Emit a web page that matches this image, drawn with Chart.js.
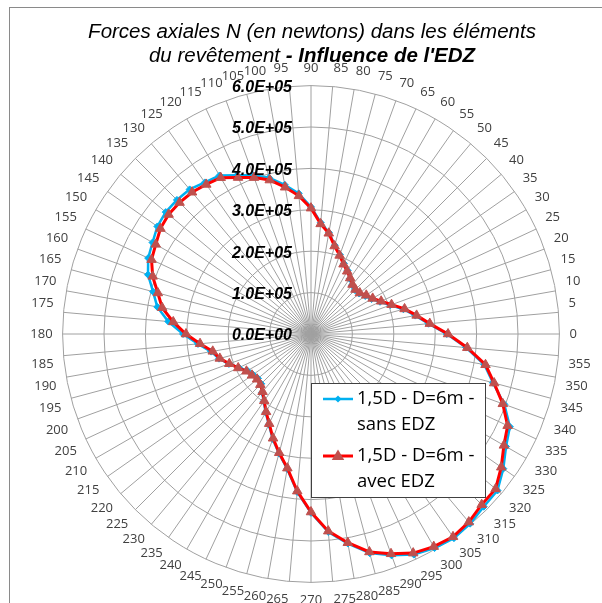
<!DOCTYPE html>
<html>
<head>
<meta charset="utf-8">
<script src="https://cdn.jsdelivr.net/npm/chart.js"></script>
<style>
  html, body { margin: 0; padding: 0; background: #fff; overflow: hidden; width: 602px; height: 603px; }
  #frame { position: absolute; left: 9px; top: 7px; width: 700px; height: 700px; border: 1px solid #8a8a8a; }
  #chart { position: absolute; left: 0; top: 0; }
</style>
</head>
<body>
<div id="frame"></div>
<canvas id="chart" width="630" height="620"></canvas>
<script>
// angles around the ring, clockwise from the top
const angleLabels = ['90','85','80','75','70','65','60','55','50','45','40','35','30','25','20','15','10','5',
  '0','355','350','345','340','335','330','325','320','315','310','305','300','295','290','285','280','275',
  '270','265','260','255','250','245','240','235','230','225','220','215','210','205','200','195','190','185',
  '180','175','170','165','160','155','150','145','140','135','130','125','120','115','110','105','100','95'];

// 1,5D - D=6m - sans EDZ
const sansEDZ = [307000, 270000, 249000, 222000, 204000, 188000, 177000, 163000, 154000, 150000, 152000, 160000,
  169000, 184000, 204000, 231000, 256000, 285000, 328000, 376000, 425000, 455000, 497000, 530000, 544000, 567000,
  588000, 590000, 598000, 602000, 597000, 588000, 569000, 548000, 514000, 480000, 432000, 383000, 331000,
  299000, 270000, 241000, 219000, 199000, 184000, 170000, 167000, 171000, 177000, 192000, 211000, 230000,
  245000, 274000, 309000, 346000, 377000, 395000, 419000, 434000, 442000, 453000, 458000, 458000, 456000, 447000,
  442000, 423000, 408000, 391000, 366000, 341000];

// 1,5D - D=6m - avec EDZ
const avecEDZ = [304000, 267000, 247000, 220000, 202000, 186000, 175000, 165000, 156000, 152000, 154000, 163000,
  172000, 187000, 207000, 234000, 259000, 288000, 331000, 379000, 428000, 458000, 493000, 524000, 538000, 561000,
  582000, 583000, 593000, 598000, 593000, 584000, 565000, 545000, 512000, 478000, 430000, 381000, 329000, 297000,
  268000, 239000, 217000, 197000, 182000, 173000, 170000, 174000, 180000, 194000, 210000, 228000, 241000, 269000,
  302000, 334000, 365000, 383000, 407000, 425000, 433000, 444000, 449000, 449000, 447000, 441000, 436000, 417000,
  402000, 385000, 360000, 335000];

const rMax = 600000;
const rStep = 100000;

function sciLabel(v) {
  return v.toExponential(1).toUpperCase().replace(/E([+-])(\d)$/, 'E$10$2');
}

// title: second line has a bold part
const titlePlugin = {
  id: 'twoStyleTitle',
  afterDraw(chart) {
    const ctx = chart.ctx;
    const cx = 312;
    ctx.save();
    ctx.fillStyle = '#000';
    ctx.textBaseline = 'alphabetic';
    ctx.textAlign = 'left';
    const fNorm = 'italic 20.5px "Liberation Sans", Arial, sans-serif';
    const fBold = 'italic bold 20.5px "Liberation Sans", Arial, sans-serif';
    ctx.font = fNorm;
    const l1 = 'Forces axiales N (en newtons) dans les éléments';
    ctx.fillText(l1, cx - ctx.measureText(l1).width / 2, 38);
    const a = 'du revêtement ', b = '- Influence de l\'EDZ';
    const wa = ctx.measureText(a).width;
    ctx.font = fBold;
    const wb = ctx.measureText(b).width;
    const x0 = cx - (wa + wb) / 2;
    ctx.font = fNorm;
    ctx.fillText(a, x0, 62);
    ctx.font = fBold;
    ctx.fillText(b, x0 + wa, 62);
    ctx.restore();
  }
};

// value labels left of the vertical axis
const tickLabelPlugin = {
  id: 'tickLabels',
  afterDatasetsDraw(chart) {
    const r = chart.scales.r;
    const ctx = chart.ctx;
    ctx.save();
    ctx.font = 'italic bold 16px "Liberation Sans", Arial, sans-serif';
    ctx.fillStyle = '#000';
    ctx.textAlign = 'right';
    ctx.textBaseline = 'middle';
    r.ticks.forEach(t => {
      const y = r.yCenter - r.getDistanceFromCenterForValue(t.value);
      ctx.fillText(sciLabel(t.value), r.xCenter - 19, y + 2);
    });
    ctx.restore();
  }
};

function marker(ctx, style, x, y, rad, fill) {
  ctx.fillStyle = fill;
  ctx.beginPath();
  if (style === 'rectRot') {
    ctx.moveTo(x, y - rad); ctx.lineTo(x + rad, y); ctx.lineTo(x, y + rad); ctx.lineTo(x - rad, y);
  } else {
    const s = rad * 1.2;
    ctx.moveTo(x, y - s); ctx.lineTo(x + s * 0.95, y + s * 0.6); ctx.lineTo(x - s * 0.95, y + s * 0.6);
  }
  ctx.closePath();
  ctx.fill();
}

// boxed legend inside the plot, two-line entries
const legendPlugin = {
  id: 'boxLegend',
  afterDraw(chart) {
    const ctx = chart.ctx;
    ctx.save();
    ctx.fillStyle = '#fff';
    ctx.fillRect(311, 383, 174, 114);
    ctx.strokeStyle = '#404040';
    ctx.lineWidth = 1;
    ctx.strokeRect(311.5, 383.5, 174, 114);
    const rows = [
      { ds: chart.data.datasets[0], y: 399, l2: 'sans EDZ' },
      { ds: chart.data.datasets[1], y: 456, l2: 'avec EDZ' }
    ];
    rows.forEach(row => {
      ctx.strokeStyle = row.ds.borderColor;
      ctx.lineWidth = row.ds.borderWidth;
      ctx.beginPath();
      ctx.moveTo(323, row.y);
      ctx.lineTo(353, row.y);
      ctx.stroke();
      marker(ctx, row.ds.pointStyle, 338, row.y, row.ds.pointRadius, row.ds.pointBackgroundColor);
      ctx.fillStyle = '#000';
      ctx.font = '18.5px "Open Sans", sans-serif';
      ctx.textAlign = 'left';
      ctx.textBaseline = 'middle';
      ctx.fillText('1,5D - D=6m -', 357, row.y);
      ctx.fillText(row.l2, 357, row.y + 26);
    });
    ctx.restore();
  }
};

new Chart(document.getElementById('chart'), {
  type: 'radar',
  data: {
    labels: angleLabels,
    datasets: [{
      label: '1,5D - D=6m - sans EDZ',
      data: sansEDZ,
      borderColor: '#00B0F0',
      backgroundColor: '#00B0F0',
      borderWidth: 2.5,
      pointStyle: 'rectRot',
      pointRadius: 3.5,
      pointBackgroundColor: '#00B0F0',
      pointBorderColor: '#00B0F0',
      pointBorderWidth: 1,
      fill: false,
      tension: 0,
      order: 1
    }, {
      label: '1,5D - D=6m - avec EDZ',
      data: avecEDZ,
      borderColor: '#FF0000',
      backgroundColor: '#FF0000',
      borderWidth: 3,
      pointStyle: 'triangle',
      pointRadius: 5.5,
      pointBackgroundColor: '#C0504D',
      pointBorderColor: '#C0504D',
      pointBorderWidth: 1,
      fill: false,
      tension: 0,
      order: 0
    }]
  },
  options: {
    responsive: false,
    animation: false,
    layout: { padding: { left: 0, right: 8, top: 61, bottom: 11 } },
    plugins: {
      legend: { display: false },
      title: { display: false },
      tooltip: { enabled: false }
    },
    scales: {
      r: {
        min: 0,
        max: rMax,
        ticks: { display: false, stepSize: rStep },
        grid: { circular: true, color: '#a0a0a0', lineWidth: 1 },
        angleLines: { color: '#a0a0a0', lineWidth: 1 },
        pointLabels: {
          padding: 10,
          color: '#404040',
          font: { family: '"Open Sans", sans-serif', size: 13 }
        }
      }
    }
  },
  plugins: [titlePlugin, tickLabelPlugin, legendPlugin]
});
</script>
</body>
</html>
